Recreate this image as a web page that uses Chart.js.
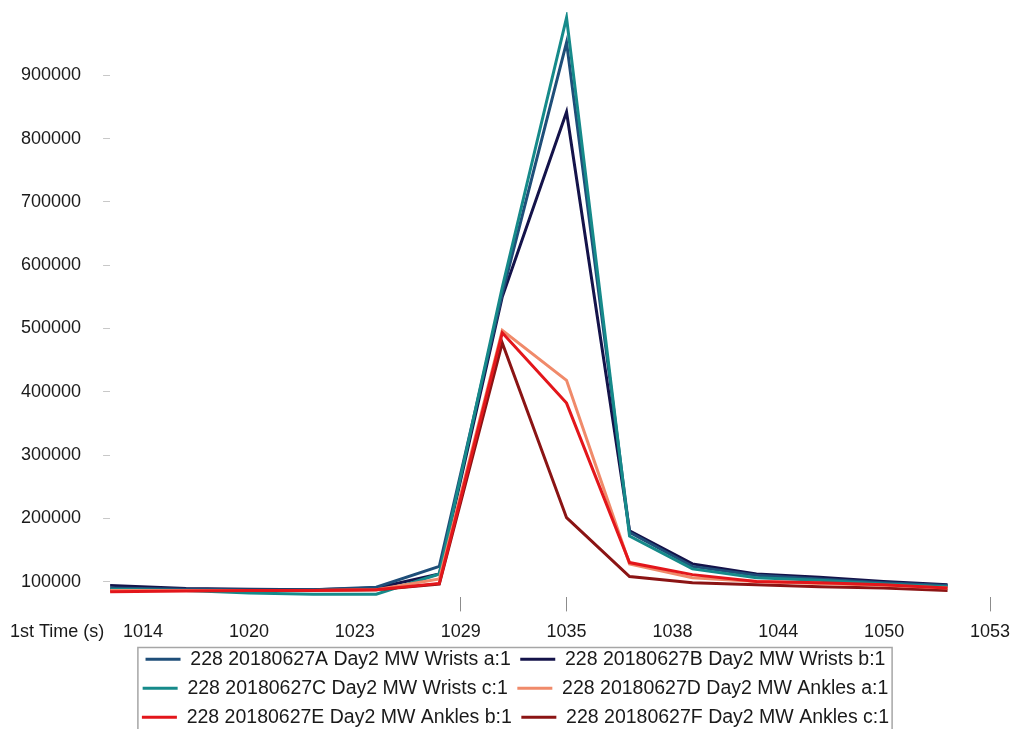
<!DOCTYPE html>
<html>
<head>
<meta charset="utf-8">
<script src="https://cdn.jsdelivr.net/npm/chart.js@4.4.1/dist/chart.umd.min.js"></script>
<style>
  html, body { margin: 0; padding: 0; background: #ffffff; }
  #wrap { width: 1013px; height: 729px; position: relative; }
</style>
</head>
<body>
<div id="wrap"><canvas id="c" width="1013" height="729"></canvas></div>
<script>
// ---- data ----
const xTitle = '1st Time (s)';
const tickLabels = ['1014', '1020', '1023', '1029', '1035', '1038', '1044', '1050', '1053'];
const timePos = [-0.312, 0.406, 1.002, 1.607, 2.202, 2.798, 3.393, 4.0, 4.595, 5.189, 5.794, 6.389, 6.994, 7.599];
const yTicks = [100000, 200000, 300000, 400000, 500000, 600000, 700000, 800000, 900000];
const seriesNames = [
  '228 20180627A Day2 MW Wrists a:1',
  '228 20180627B Day2 MW Wrists b:1',
  '228 20180627C Day2 MW Wrists c:1',
  '228 20180627D Day2 MW Ankles a:1',
  '228 20180627E Day2 MW Ankles b:1',
  '228 20180627F Day2 MW Ankles c:1'
];
const seriesA = [90000, 88000, 87000, 87000, 91000, 124000, 555000, 952000, 178000, 124000, 110000, 104000, 98000, 94000];
const seriesB = [94000, 89000, 88000, 87000, 90000, 112000, 550000, 842000, 180000, 128000, 112000, 107000, 100000, 95000];
const seriesC = [88000, 86000, 82000, 80000, 80000, 112000, 565000, 991000, 172000, 120000, 106000, 102000, 96000, 92000];
const seriesD = [86000, 86000, 86000, 86000, 87000, 104000, 497000, 418000, 128000, 106000, 100000, 97000, 94000, 90000];
const seriesE = [84000, 85000, 86000, 86000, 87000, 97000, 493000, 382000, 130000, 111000, 100000, 98000, 95000, 90000];
const seriesF = [86000, 86000, 86000, 86000, 87000, 96000, 477000, 201000, 108000, 98000, 95000, 92000, 90000, 86000];

const allSeries = [seriesA, seriesB, seriesC, seriesD, seriesE, seriesF];
const colors = ['#1f4e79', '#14134a', '#168a8a', '#f08a6a', '#e3161b', '#8b1414'];
const drawOrder = [4, 5, 3, 1, 0, 2];
const visibleXTicks = [3, 4, 8];

const FONT = "'Liberation Sans', Arial, sans-serif";
const TEXT = '#1a1a1a';

const datasets = allSeries.map((s, i) => ({
  label: seriesNames[i],
  data: s.map((v, j) => ({ x: timePos[j], y: v })),
  borderColor: colors[i],
  backgroundColor: colors[i],
  borderWidth: 3,
  pointRadius: 0,
  tension: 0,
  order: drawOrder[i]
}));

const extras = {
  id: 'extras',
  afterLayout(chart) {
    // the reference legend sits slightly right of centre
    if (chart.legend) { chart.legend.left += 42; }
  },
  afterDraw(chart) {
    const ctx = chart.ctx;
    const xs = chart.scales.x;
    ctx.save();
    ctx.font = '18px ' + FONT;
    ctx.fillStyle = TEXT;
    ctx.textAlign = 'left';
    ctx.textBaseline = 'middle';
    ctx.fillText(xTitle, 10, xs.top + 35);
    const lg = chart.legend;
    if (lg && lg.legendHitBoxes && lg.legendHitBoxes.length) {
      const hb = lg.legendHitBoxes;
      const l = Math.min(...hb.map(h => h.left)) - 4;
      const r = Math.max(...hb.map(h => h.left + h.width)) + 3;
      const t = Math.min(...hb.map(h => h.top)) - 2;
      ctx.strokeStyle = '#a6a6a6';
      ctx.lineWidth = 1.5;
      ctx.strokeRect(l, t, r - l, chart.height + 10 - t);
    }
    ctx.restore();
  }
};

new Chart(document.getElementById('c'), {
  type: 'line',
  data: { datasets },
  options: {
    responsive: false,
    animation: false,
    layout: { padding: { left: -1, right: 23, top: 12, bottom: -8 } },
    plugins: {
      legend: {
        position: 'bottom',
        maxWidth: 820,
        labels: {
          boxWidth: 35,
          boxHeight: 3,
          padding: 9.5,
          color: TEXT,
          font: { family: FONT, size: 19.5 },
          sort: (a, b) => a.datasetIndex - b.datasetIndex,
          generateLabels: (chart) => chart.data.datasets.map((d, i) => ({
            text: d.label, fillStyle: d.borderColor, strokeStyle: d.borderColor,
            lineWidth: 0, hidden: false, datasetIndex: i, fontColor: TEXT
          }))
        }
      },
      tooltip: { enabled: false }
    },
    scales: {
      x: {
        type: 'linear',
        min: timePos[0],
        max: tickLabels.length - 1,
        afterBuildTicks: (s) => { s.ticks = tickLabels.map((t, i) => ({ value: i })); },
        afterFit: (s) => { s.height -= 13; s.paddingLeft = 0; s.paddingRight = 0; },
        border: { display: false },
        grid: {
          drawOnChartArea: false,
          tickLength: 14,
          tickWidth: 1,
          color: (c) => visibleXTicks.includes(c.index) ? '#8c8c8c' : 'rgba(0,0,0,0)'
        },
        ticks: {
          autoSkip: false,
          maxRotation: 0,
          padding: 10,
          color: TEXT,
          font: { family: FONT, size: 18 },
          callback: (v, i) => tickLabels[i]
        }
      },
      y: {
        min: 75000,
        max: 1000000,
        afterBuildTicks: (s) => { s.ticks = yTicks.map(v => ({ value: v })); },
        afterFit: (s) => { s.paddingTop = 0; s.paddingBottom = 0; },
        border: { display: false },
        grid: {
          drawOnChartArea: false,
          tickLength: 7,
          color: '#c8c8c8'
        },
        ticks: {
          padding: 22,
          color: TEXT,
          font: { family: FONT, size: 18 },
          callback: (v) => String(v)
        }
      }
    }
  },
  plugins: [extras]
});
</script>
</body>
</html>
